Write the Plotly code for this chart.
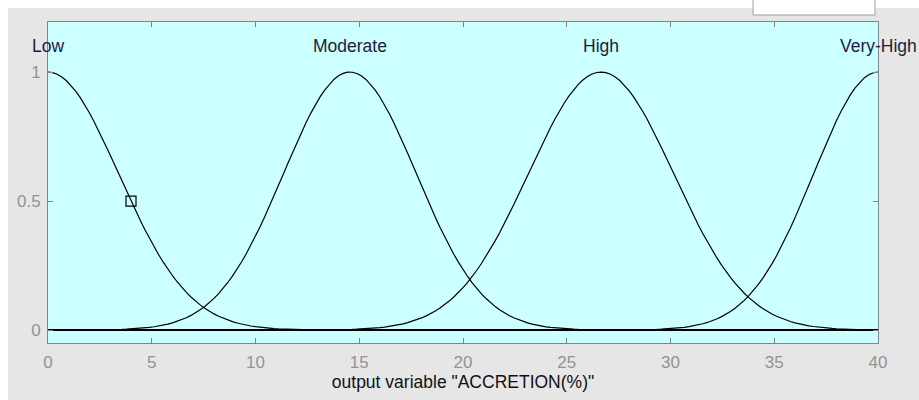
import numpy as np
import plotly.graph_objects as go

# Gaussian membership functions of the output variable (center, sigma)
mf_names = ["Low", "Moderate", "High", "Very-High"]
mf_centers = [0.0, 14.55, 26.65, 40.0]
mf_sigmas = [3.40, 3.20, 3.50, 3.10]

x_range = [0, 40]
x_ticks = [0, 5, 10, 15, 20, 25, 30, 35, 40]
y_ticks = [0, 0.5, 1]
y_tick_text = ["0", "0.5", "1"]

# Selected point on the "Low" curve
marker_x = [4]
marker_y = [0.5]

FONT = "Liberation Sans, Arial, sans-serif"

x = np.linspace(x_range[0], x_range[1], 181)

fig = go.Figure()

# zero baseline
fig.add_trace(go.Scatter(x=x_range, y=[0, 0], mode="lines",
                         line=dict(color="black", width=2),
                         hoverinfo="skip", showlegend=False))

for name, c, s in zip(mf_names, mf_centers, mf_sigmas):
    y = np.exp(-((x - c) ** 2) / (2 * s ** 2))
    fig.add_trace(go.Scatter(x=x, y=y, mode="lines", name=name,
                             line=dict(color="black", width=1.2),
                             showlegend=False))
    fig.add_annotation(x=c, y=1.10, text=name, showarrow=False,
                       xref="x", yref="y",
                       font=dict(family=FONT, size=17.5, color="#1c1c3c"))

fig.add_trace(go.Scatter(x=marker_x, y=marker_y, mode="markers",
                         marker=dict(symbol="square-open", size=10,
                                     color="black", line=dict(width=1.2)),
                         showlegend=False))

axis_common = dict(showline=True, linecolor="#858585", linewidth=1,
                   mirror="ticks", ticks="inside", ticklen=5,
                   tickcolor="#858585", showgrid=False, zeroline=False,
                   tickfont=dict(family=FONT, size=17, color="#939393"))

fig.update_xaxes(range=x_range, tickvals=x_ticks,
                 ticklabelstandoff=4,
                 title=dict(text='output variable "ACCRETION(%)"',
                            font=dict(family=FONT, size=17.5, color="#111111"),
                            standoff=3),
                 **axis_common)
fig.update_yaxes(range=[-0.05, 1.194], tickvals=y_ticks,
                 ticktext=y_tick_text, ticklabelstandoff=3, **axis_common)

# white window strips around the gray panel and the small box top-right
fig.add_shape(type="rect", xref="paper", yref="paper",
              x0=-0.06, x1=1.06, y0=1.0436, y1=1.08,
              fillcolor="white", line=dict(width=0), layer="below")
fig.add_shape(type="rect", xref="paper", yref="paper",
              x0=-0.06, x1=-0.0482, y0=-0.2, y1=1.08,
              fillcolor="white", line=dict(width=0), layer="below")
fig.add_shape(type="rect", xref="paper", yref="paper",
              x0=0.8494, x1=0.9964, y0=1.0218, y1=1.075,
              fillcolor="white", line=dict(color="#a0a0a0", width=1),
              layer="below")

fig.update_layout(
    width=919, height=400,
    margin=dict(l=48, r=41, t=22, b=57),
    paper_bgcolor="#e6e6e6",
    plot_bgcolor="#ccffff",
    font=dict(family=FONT),
)

fig.write_html("out.html")
